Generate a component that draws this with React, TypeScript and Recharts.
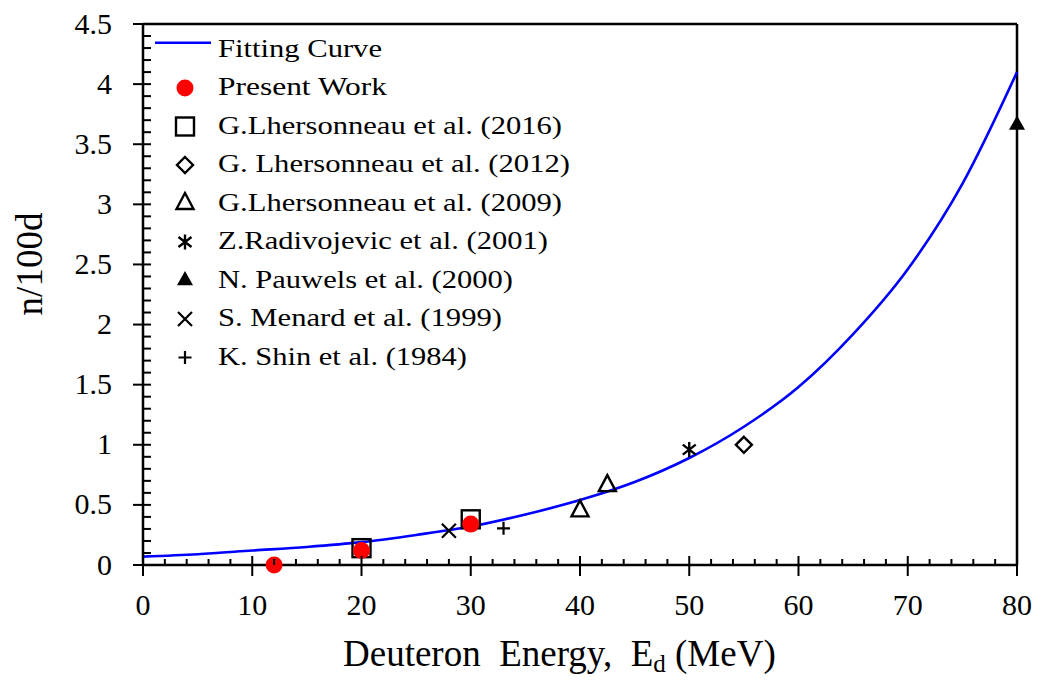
import { ComposedChart, XAxis, YAxis, Line, Scatter, ReferenceLine } from 'recharts'

// fitting curve
const FIT_E = [0, 5, 10, 15, 20, 25, 30, 35, 40, 45, 50, 55, 60, 65, 70, 75, 80]
const FIT_N = [0.07, 0.09, 0.12, 0.15, 0.19, 0.25, 0.32, 0.42, 0.54, 0.69, 0.89, 1.15, 1.48, 1.92, 2.46, 3.17, 4.1]

const PRESENT_E = [12, 20, 30]
const PRESENT_N = [0.0, 0.12, 0.34]
const LH2016_E = [20, 30]
const LH2016_N = [0.14, 0.38]
const LH2012_E = [55]
const LH2012_N = [1.0]
const LH2009_E = [40, 42.5]
const LH2009_N = [0.45, 0.66]
const RAD2001_E = [50]
const RAD2001_N = [0.96]
const PAU2000_E = [80]
const PAU2000_N = [3.66]
const MEN1999_E = [28]
const MEN1999_N = [0.285]
const SHIN1984_E = [33]
const SHIN1984_N = [0.305]

const X_TICKS = Array.from({ length: 41 }, (_, i) => i * 2)
const Y_TICKS = Array.from({ length: 46 }, (_, i) => i / 10)

const LEGEND = [
  { name: 'Fitting Curve', w: 164 },
  { name: 'Present Work', w: 169 },
  { name: 'G.Lhersonneau et al. (2016)', w: 344 },
  { name: 'G. Lhersonneau et al. (2012)', w: 352 },
  { name: 'G.Lhersonneau et al. (2009)', w: 344 },
  { name: 'Z.Radivojevic et al. (2001)', w: 330 },
  { name: 'N. Pauwels et al. (2000)', w: 295 },
  { name: 'S. Menard et al. (1999)', w: 284 },
  { name: 'K. Shin et al. (1984)', w: 249 },
]

const FONT = '"Liberation Serif", "Times New Roman", serif'
const pts = (e: number[], n: number[]) => e.map((v, i) => ({ e: v, n: n[i] }))

const circle = (cx: number, cy: number) => <circle cx={cx} cy={cy} r={8.5} fill="#ff0000" />
const square = (cx: number, cy: number) => <rect x={cx - 9} y={cy - 9} width={18} height={18} fill="none" stroke="#000" strokeWidth={2.4} />
const diamond = (cx: number, cy: number) => <polygon points={`${cx},${cy - 8} ${cx + 8},${cy} ${cx},${cy + 8} ${cx - 8},${cy}`} fill="none" stroke="#000" strokeWidth={2.4} />
const triOpen = (cx: number, cy: number) => <polygon points={`${cx},${cy - 10.5} ${cx + 8.5},${cy + 5.5} ${cx - 8.5},${cy + 5.5}`} fill="none" stroke="#000" strokeWidth={2.4} />
const triFill = (cx: number, cy: number) => <polygon points={`${cx},${cy - 9.5} ${cx + 8},${cy + 4.8} ${cx - 8},${cy + 4.8}`} fill="#000" />
const star = (cx: number, cy: number) => (
  <path d={`M${cx},${cy - 7.5}V${cy + 7.5}M${cx - 6.5},${cy - 5}L${cx + 6.5},${cy + 5}M${cx - 6.5},${cy + 5}L${cx + 6.5},${cy - 5}`} stroke="#000" strokeWidth={2.4} />
)
const cross = (cx: number, cy: number) => <path d={`M${cx - 7},${cy - 7}L${cx + 7},${cy + 7}M${cx - 7},${cy + 7}L${cx + 7},${cy - 7}`} stroke="#000" strokeWidth={2.2} />
const plus = (cx: number, cy: number) => <path d={`M${cx - 6.5},${cy}H${cx + 6.5}M${cx},${cy - 6.5}V${cy + 6.5}`} stroke="#000" strokeWidth={2.2} />

const SHAPES = [circle, square, diamond, triOpen, star, triFill, cross, plus]

const XTick = (props: any) => {
  const { x, y, payload } = props
  const v = payload.value
  const major = v % 10 === 0
  return (
    <g>
      <line x1={x} x2={x} y1={y - (major ? 9 : 6)} y2={major ? y + 11 : y} stroke="#000" strokeWidth={2} />
      {major && (
        <text x={x} y={y + 50} textAnchor="middle" fontFamily={FONT} fontSize={30} fill="#000">{v}</text>
      )}
    </g>
  )
}

const YTick = (props: any) => {
  const { x, y, payload } = props
  const v = payload.value
  const major = Math.round(v * 10) % 5 === 0
  return (
    <g>
      <line x1={major ? x - 10 : x} x2={x + 8} y1={y} y2={y} stroke="#000" strokeWidth={2} />
      {major && (
        <text x={x - 31} y={y + 9.5} textAnchor="end" fontFamily={FONT} fontSize={30} fill="#000">{v}</text>
      )}
    </g>
  )
}

export default function App() {
  return (
    <div style={{ position: 'relative', width: 1025, height: 666, background: '#fff' }}>
      <ComposedChart width={1025} height={666} margin={{ top: 16, right: 16, left: 0, bottom: 0 }}>
        <XAxis type="number" dataKey="e" domain={[0, 80]} ticks={X_TICKS} interval={0} height={109}
          tickSize={0} tickMargin={0} tick={XTick} axisLine={{ stroke: '#000', strokeWidth: 2.5 }} />
        <YAxis type="number" dataKey="n" domain={[0, 4.5]} ticks={Y_TICKS} interval={0} width={135}
          tickSize={0} tickMargin={0} tick={YTick} axisLine={{ stroke: '#000', strokeWidth: 2.5 }} />
        <ReferenceLine y={4.5} stroke="#000" strokeWidth={2.5} />
        <ReferenceLine x={80} stroke="#000" strokeWidth={2.5} />
        <Scatter data={pts(LH2016_E, LH2016_N)} isAnimationActive={false} shape={(p: any) => square(p.cx, p.cy)} />
        <Scatter data={pts(PRESENT_E, PRESENT_N)} isAnimationActive={false} shape={(p: any) => circle(p.cx, p.cy)} />
        <Scatter data={pts(LH2012_E, LH2012_N)} isAnimationActive={false} shape={(p: any) => diamond(p.cx, p.cy)} />
        <Scatter data={pts(LH2009_E, LH2009_N)} isAnimationActive={false} shape={(p: any) => triOpen(p.cx, p.cy)} />
        <Scatter data={pts(RAD2001_E, RAD2001_N)} isAnimationActive={false} shape={(p: any) => star(p.cx, p.cy)} />
        <Scatter data={pts(PAU2000_E, PAU2000_N)} isAnimationActive={false} shape={(p: any) => triFill(p.cx, p.cy)} />
        <Scatter data={pts(MEN1999_E, MEN1999_N)} isAnimationActive={false} shape={(p: any) => cross(p.cx, p.cy)} />
        <Scatter data={pts(SHIN1984_E, SHIN1984_N)} isAnimationActive={false} shape={(p: any) => plus(p.cx, p.cy)} />
        <Line data={pts(FIT_E, FIT_N)} dataKey="n" type="monotone" stroke="#0000ff" strokeWidth={2.6}
          dot={false} activeDot={false} isAnimationActive={false} />
      </ComposedChart>

      <svg width={1025} height={674} style={{ position: 'absolute', left: 0, top: 0, pointerEvents: 'none' }}>
        {LEGEND.map((item, i) => {
          const baseY = i === 0 ? 49.3 : 87 + (i - 1) * 38.5
          const symY = i === 0 ? 34.7 : baseY - 7
          return (
            <g key={item.name}>
              {i === 0
                ? <line x1={147} x2={203} y1={symY} y2={symY} stroke="#0000ff" strokeWidth={2.5} />
                : SHAPES[i - 1](177, symY)}
              <text x={210} y={baseY} fontFamily={FONT} fontSize={26} fill="#000"
                textLength={item.w} lengthAdjust="spacingAndGlyphs">{item.name}</text>
            </g>
          )
        })}
        <text x={335} y={658} fontFamily={FONT} fontSize={37} fill="#000" style={{ whiteSpace: 'pre' }}>
          {'Deuteron  Energy,  E'}<tspan fontSize={25} dy={6}>d</tspan><tspan dy={-6}>{' (MeV)'}</tspan>
        </text>
        <text x={34} y={256} transform="rotate(-90 34 256)" textAnchor="middle" fontFamily={FONT} fontSize={37} fill="#000">n/100d</text>
      </svg>
    </div>
  )
}
